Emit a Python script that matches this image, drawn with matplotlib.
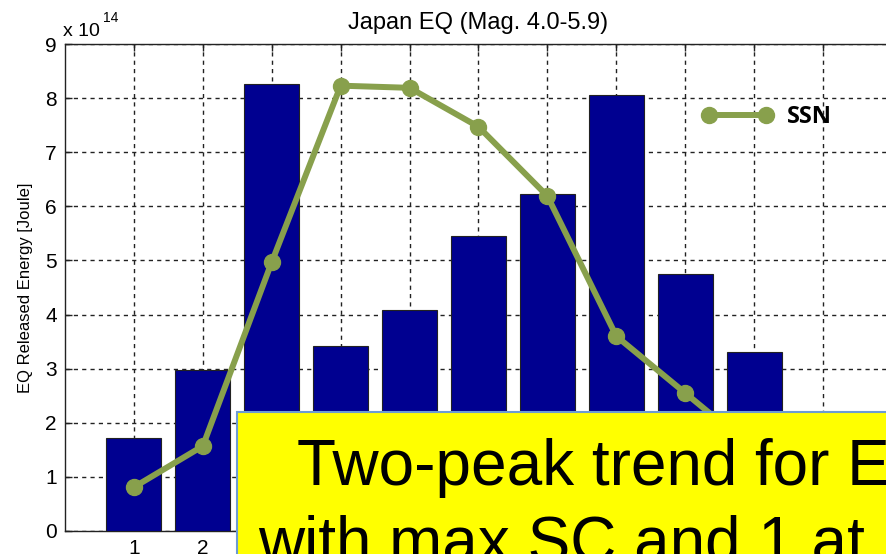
import matplotlib
matplotlib.use('Agg')
import matplotlib.pyplot as plt
from matplotlib.patches import Rectangle

# values (energy in units of 1e14 J)
bins = [1, 2, 3, 4, 5, 6, 7, 8, 9, 10]
energy = [1.72, 2.98, 8.27, 3.42, 4.09, 5.45, 6.23, 8.06, 4.75, 3.31]
# SSN curve, drawn on its own hidden scale (same 0-9 span as the plot)
ssn_x = [1, 2, 3, 4, 5, 6, 7, 8, 9, 10]
ssn = [0.81, 1.57, 4.97, 8.23, 8.19, 7.47, 6.19, 3.60, 2.55, 1.50]
yticks = [0, 1, 2, 3, 4, 5, 6, 7, 8, 9]

plt.rcParams['font.family'] = ['Liberation Sans', 'DejaVu Sans']

W, H = 887, 554
fig = plt.figure(figsize=(W / 100, H / 100), dpi=100)
ax = fig.add_axes([65 / W, (H - 531) / H, (892 - 65) / W, (531 - 44) / H])

ax.bar(bins, energy, width=0.8, color='#000090', edgecolor='#222222', linewidth=0.8, zorder=3)
ax.set_xlim(0, 12)
ax.set_ylim(0, 9)
ax.set_xticks(range(1, 12))
ax.set_yticks(yticks)
ax.tick_params(direction='in', length=5, width=1, labelsize=15, pad=6,
               top=True, right=True, colors='#222222', labelcolor='black')
ax.grid(True, color='#222222', linestyle=(0, (3, 3)), linewidth=1, zorder=1)
ax.set_axisbelow(True)
for s in ax.spines.values():
    s.set_color('#222222')
    s.set_linewidth(1)

ax.set_title('Japan EQ (Mag. 4.0-5.9)', fontsize=17, pad=11)
ax.set_ylabel('EQ Released Energy [Joule]', fontsize=12)
ax.yaxis.set_label_coords(-0.039, 0.5)

fig.text(63 / W, (H - 36) / H, 'x 10', fontsize=14, va='baseline')
fig.text(103 / W, (H - 22) / H, '14', fontsize=10, va='baseline')

ax2 = ax.twinx()
ax2.set_ylim(0, 9)
ax2.axis('off')
ax2.plot(ssn_x, ssn, color='#88A04C', linewidth=4.3, marker='o', markersize=11.5,
         label='SSN', zorder=4)
leg = ax2.legend(loc='center left', bbox_to_anchor=(690 / W, (H - 117) / H),
                 bbox_transform=fig.transFigure, frameon=False, numpoints=2,
                 handlelength=3.0, handletextpad=0.6, borderpad=0,
                 prop={'family': 'Open Sans', 'weight': 'bold', 'size': 17})

# yellow call-out box pasted over the lower right
box = Rectangle((237 / W, -0.1), 1.0, (H - 412) / H + 0.1, transform=fig.transFigure,
                facecolor='#FFFF00', edgecolor='#6C9BD2', linewidth=1.5, zorder=10)
fig.add_artist(box)
fig.text(297 / W, (H - 485) / H, 'Two-peak trend for EQ', fontsize=46,
         va='baseline', zorder=11)
fig.text(258 / W, (H - 561) / H, 'with max SC and 1 at', fontsize=46,
         va='baseline', zorder=11)

fig.savefig('out.png', dpi=100)
